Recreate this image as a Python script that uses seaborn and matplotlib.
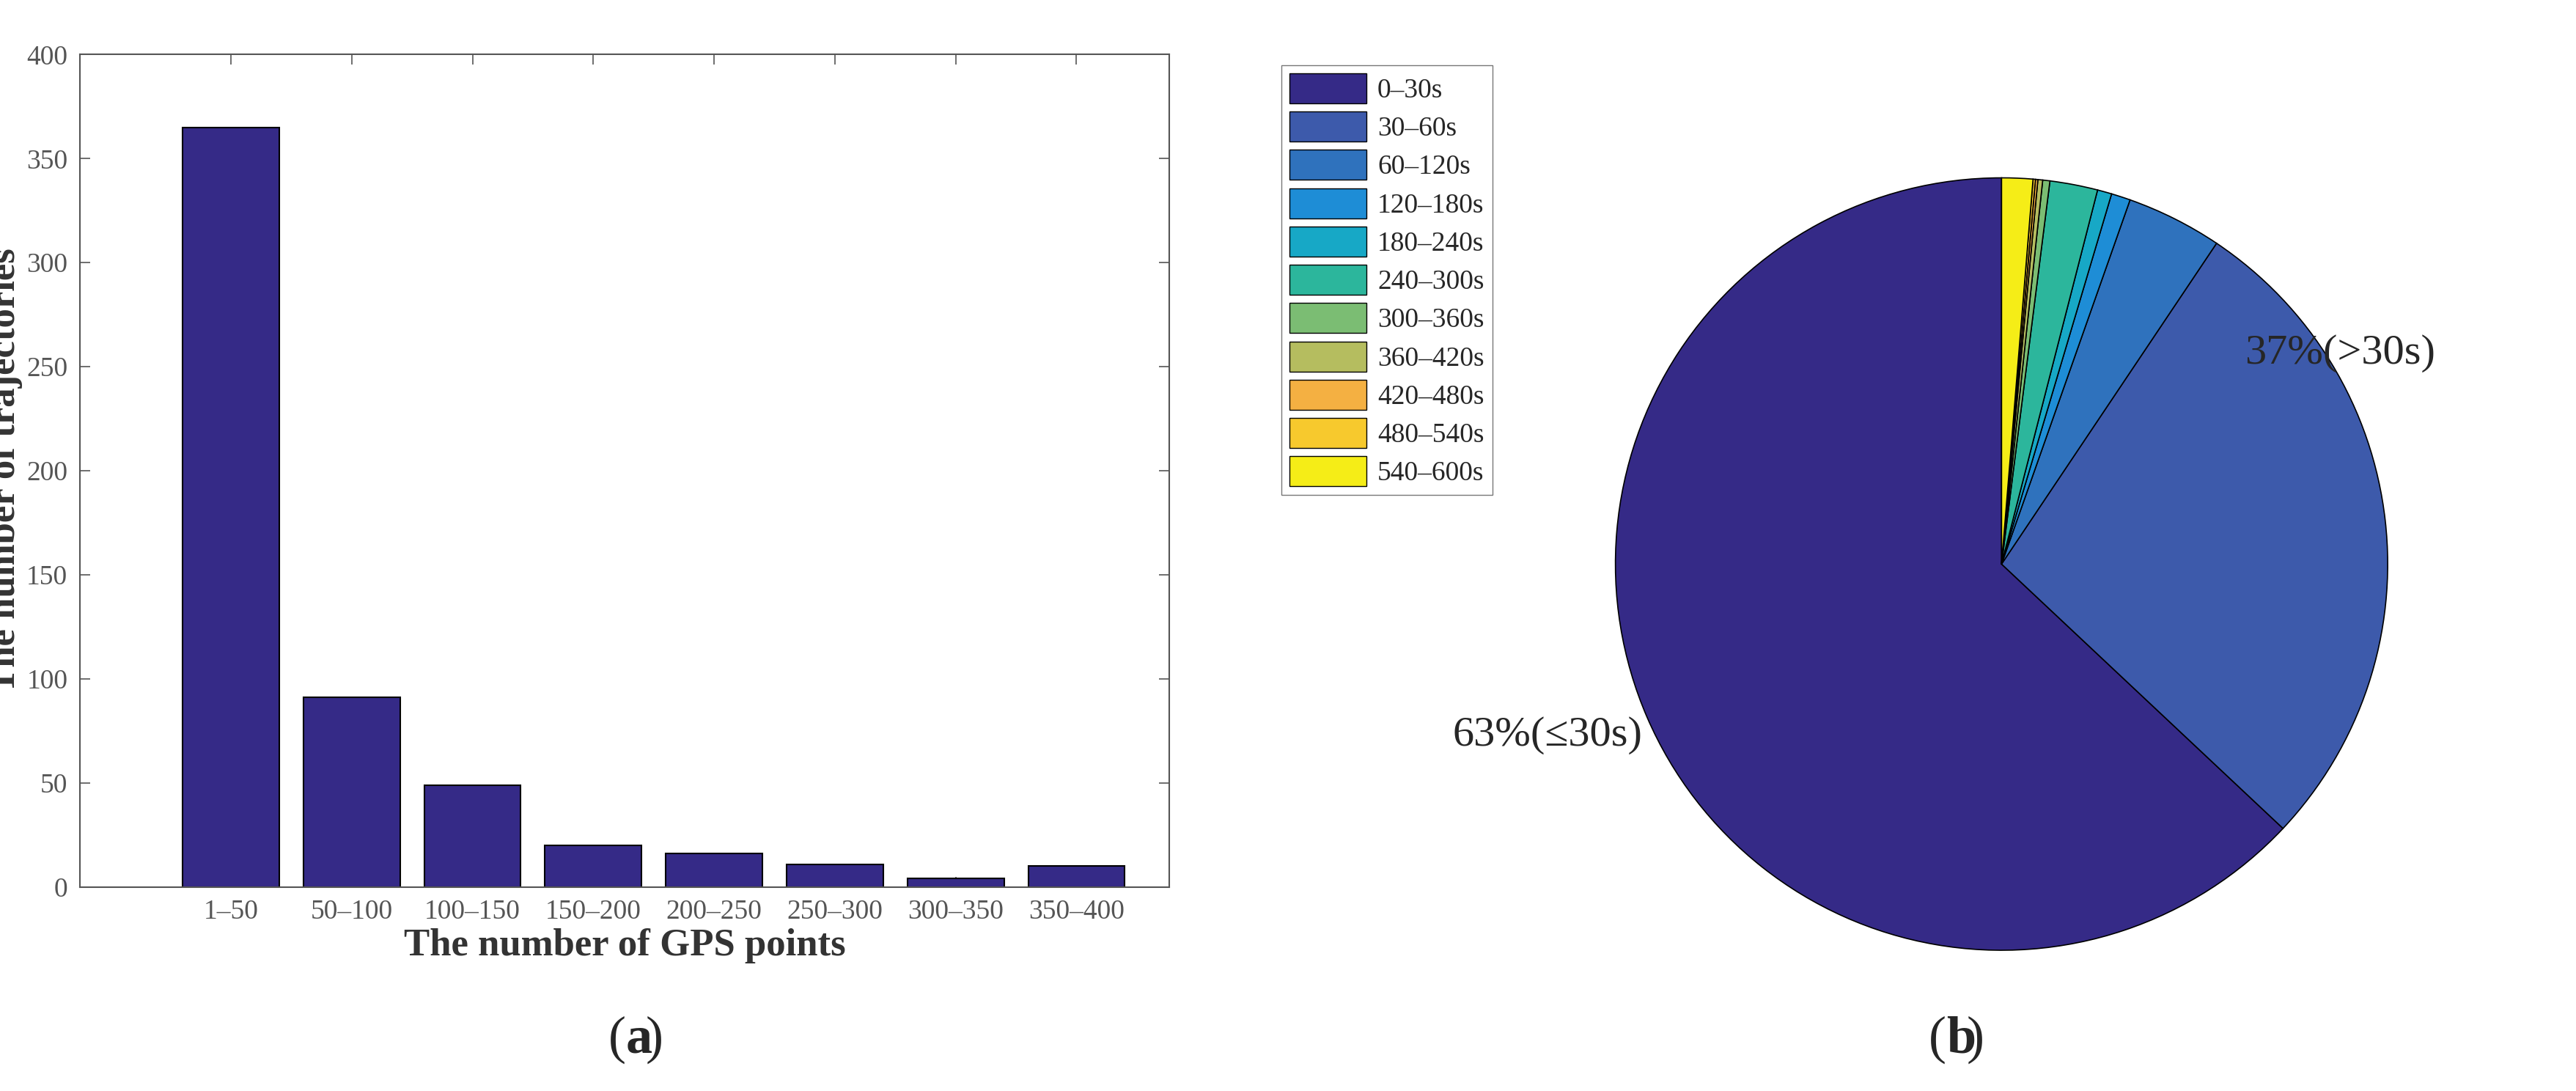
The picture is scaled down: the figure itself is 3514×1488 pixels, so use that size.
import numpy as np
import pandas as pd
import seaborn as sns
from matplotlib import pyplot as plt
from matplotlib.patches import Patch

# data
gps_bins = ["1\u201350", "50\u2013100", "100\u2013150", "150\u2013200",
            "200\u2013250", "250\u2013300", "300\u2013350", "350\u2013400"]
traj_counts = [365, 91, 49, 20, 16, 11, 4, 10]

interval_labels = ["0\u201330s", "30\u201360s", "60\u2013120s", "120\u2013180s", "180\u2013240s",
                   "240\u2013300s", "300\u2013360s", "360\u2013420s", "420\u2013480s",
                   "480\u2013540s", "540\u2013600s"]
interval_share = [63.0, 27.6, 4.0, 0.8, 0.6, 2.0, 0.3, 0.2, 0.1, 0.1, 1.3]
interval_colors = ["#352a87", "#3d5aab", "#2f72bd", "#1e8dd6", "#17a8c6", "#2cb69c",
                   "#7bbd73", "#b5bd5f", "#f4b042", "#f7c92d", "#f5ed17"]

sns.set_theme(style="white")
plt.rcParams['font.family'] = ['Liberation Serif', 'DejaVu Serif']

fig = plt.figure(figsize=(35.14, 14.88), dpi=100)

# (a) bar chart
ax = fig.add_axes([0.031, 0.187, 0.423, 0.763])
df = pd.DataFrame({"bin": gps_bins, "count": traj_counts})
sns.barplot(data=df, x="bin", y="count", color="#352a87", saturation=1,
            edgecolor="black", linewidth=1.5, width=0.8, ax=ax)
ax.set_xlim(-1.25, 7.77)
ax.set_ylim(0, 400)
ax.set_yticks(range(0, 401, 50))
for s in ax.spines.values():
    s.set_color("#555555")
    s.set_linewidth(1.5)
ax.tick_params(direction="in", length=10, width=1.2, colors="#555555",
               labelsize=27, top=True, right=True, bottom=True, left=True, pad=12)
ax.set_xlabel("The number of GPS points", fontsize=38, fontweight="bold", color="#333333")
ax.set_ylabel("The number of trajectories", fontsize=38, fontweight="bold", color="#333333")

t = fig.text(0.243, 0.035, "(", ha="right", fontsize=52)
fig.text(0.243, 0.035, "a", ha="left", fontsize=52, fontweight="bold")
fig.text(0.2505, 0.035, ")", ha="left", fontsize=52)

# (b) pie chart
pax = fig.add_axes([0.627, 0.129, 0.300, 0.708])
wedges, _ = pax.pie(interval_share, colors=interval_colors, startangle=90,
                    counterclock=True,
                    wedgeprops=dict(edgecolor="black", linewidth=1.2))
pax.set_xlim(-1, 1)
pax.set_ylim(-1, 1)
pax.set_aspect("equal")
pax.text(0.63, 0.52, "37%(>30s)", fontsize=42, clip_on=False)
pax.text(-0.93, -0.47, "63%(\u226430s)", fontsize=42, ha="right", clip_on=False)

fig.text(0.7555, 0.035, "(", ha="right", fontsize=52)
fig.text(0.7555, 0.035, "b", ha="left", fontsize=52, fontweight="bold")
fig.text(0.7635, 0.035, ")", ha="left", fontsize=52)

handles = [Patch(facecolor=c, edgecolor="black", label=l)
           for c, l in zip(interval_colors, interval_labels)]
fig.legend(handles=handles, loc="upper left", bbox_to_anchor=(0.492, 0.953),
           frameon=True, fancybox=False, edgecolor="#555555",
           handlelength=2.8, handleheight=1.3, labelspacing=0.3,
           borderpad=0.3, handletextpad=0.4, prop={"size": 27})

fig.savefig("out.png", dpi=100)
